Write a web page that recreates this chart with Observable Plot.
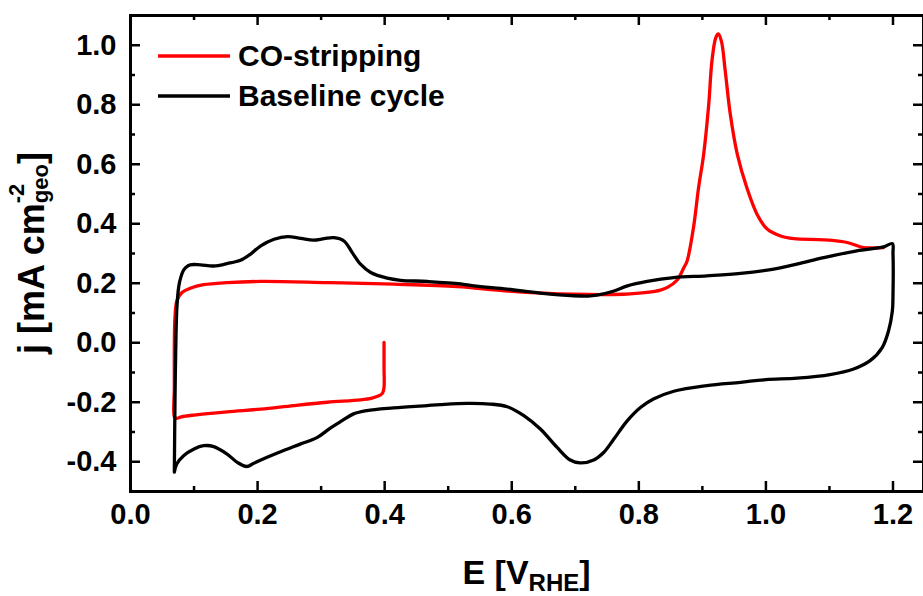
<!DOCTYPE html>
<html>
<head>
<meta charset="utf-8">
<script src="https://cdn.jsdelivr.net/npm/d3@7"></script>
<script src="https://cdn.jsdelivr.net/npm/@observablehq/plot@0.6"></script>
<style>
  html, body { margin: 0; padding: 0; background: #fff; }
  #chart svg { display: block; }
</style>
</head>
<body>
<div id="chart"></div>
<script>
// Cyclic voltammograms: CO-stripping scan and the following baseline cycle.
const seriesNames = ["CO-stripping", "Baseline cycle"];
const seriesColors = ["#ff0000", "#000000"];

// CO-stripping scan: starts at 0.40 V, goes cathodic to 0.07 V, then anodic to 1.2 V
const coStripE = [0.399, 0.399, 0.399, 0.397, 0.393, 0.380, 0.362, 0.310, 0.257, 0.205, 0.152, 0.100, 0.080, 0.072,
  0.069, 0.069, 0.069, 0.070, 0.073, 0.081, 0.094, 0.115, 0.152, 0.205, 0.310, 0.414, 0.514, 0.593, 0.698, 0.776, 0.813,
  0.834, 0.845, 0.860, 0.871, 0.876, 0.886, 0.894, 0.902, 0.910, 0.915, 0.921, 0.925, 0.930, 0.936, 0.944,
  0.955, 0.970, 0.986, 1.002, 1.023, 1.044, 1.091, 1.128, 1.154, 1.185];
const coStripJ = [0.001, -0.080, -0.150, -0.168, -0.176, -0.186, -0.192, -0.200, -0.211, -0.223, -0.232, -0.243, -0.249, -0.254,
  -0.248, -0.150, 0.000, 0.085, 0.141, 0.169, 0.183, 0.195, 0.202, 0.206, 0.202, 0.197, 0.189, 0.174, 0.163, 0.163, 0.169,
  0.177, 0.186, 0.210, 0.253, 0.275, 0.387, 0.521, 0.633, 0.801, 0.946, 1.025, 1.038, 1.013, 0.913, 0.767,
  0.633, 0.521, 0.432, 0.382, 0.359, 0.350, 0.346, 0.337, 0.320, 0.320];

// Baseline cycle: anodic sweep 0.07 -> 1.2 V, then cathodic sweep back to 0.07 V
const baselineE = [0.069, 0.070, 0.071, 0.073, 0.076, 0.079, 0.083, 0.087, 0.094, 0.110, 0.131, 0.152, 0.173,
  0.189, 0.205, 0.226, 0.247, 0.268, 0.288, 0.305, 0.320, 0.336, 0.349, 0.362, 0.378, 0.404, 0.425, 0.467,
  0.519, 0.540, 0.593, 0.645, 0.698, 0.720, 0.734, 0.761, 0.782, 0.813, 0.855, 0.907, 0.960, 1.010, 1.050,
  1.091, 1.143, 1.185, 1.199,
  1.200, 1.200, 1.199, 1.193, 1.183, 1.164, 1.138, 1.101, 1.049, 1.000, 0.960, 0.907, 0.855, 0.823, 0.803,
  0.782, 0.761, 0.745, 0.729, 0.708, 0.692, 0.671, 0.645, 0.619, 0.593, 0.566, 0.530, 0.488, 0.467, 0.414,
  0.372, 0.351, 0.333, 0.315, 0.294, 0.268, 0.241, 0.215, 0.194, 0.183, 0.168, 0.152, 0.131, 0.115, 0.100,
  0.084, 0.073, 0.069];
const baselineJ = [-0.435, -0.200, -0.050, 0.118, 0.190, 0.219, 0.242, 0.253, 0.262, 0.262, 0.258, 0.266, 0.277,
  0.298, 0.326, 0.348, 0.357, 0.351, 0.345, 0.350, 0.353, 0.342, 0.303, 0.264, 0.236, 0.217, 0.210, 0.206,
  0.198, 0.191, 0.180, 0.167, 0.158, 0.157, 0.160, 0.174, 0.191, 0.206, 0.219, 0.225, 0.233, 0.247, 0.265,
  0.286, 0.309, 0.322, 0.333,
  0.300, 0.163, 0.107, 0.040, -0.016, -0.060, -0.088, -0.107, -0.119, -0.124, -0.133, -0.144, -0.163, -0.189, -0.217,
  -0.262, -0.323, -0.368, -0.394, -0.404, -0.394, -0.351, -0.290, -0.245, -0.215, -0.206, -0.204, -0.208, -0.211, -0.219,
  -0.228, -0.239, -0.262, -0.286, -0.318, -0.340, -0.362, -0.385, -0.405, -0.416, -0.402, -0.374, -0.349, -0.346, -0.357,
  -0.379, -0.407, -0.435];

// Axis ticks
const xMajorTicks = [0.0, 0.2, 0.4, 0.6, 0.8, 1.0, 1.2];
const xMinorTicks = [0.1, 0.3, 0.5, 0.7, 0.9, 1.1];
const yMajorTicks = [-0.4, -0.2, 0.0, 0.2, 0.4, 0.6, 0.8, 1.0];
const yMinorTicks = [-0.3, -0.1, 0.1, 0.3, 0.5, 0.7, 0.9];
const xDomain = [0, 1.248];
const yDomain = [-0.5, 1.1];

const rows = (E, J, series) => E.map((e, i) => ({E: e, j: J[i], series}));
const coRows = rows(coStripE, coStripJ, seriesNames[0]);
const baseRows = rows(baselineE, baselineJ, seriesNames[1]);

// Layout
const W = 923, H = 596;
const mL = 130, mR = 0, mT = 15, mB = 105;
const plotW = W - mL - mR, plotH = H - mT - mB;
const majorLen = 10, minorLen = 5, tickW = 2.5;
const lineW = 3.3;
const font = "'Liberation Sans', Arial, Helvetica, sans-serif";

// Inward ticks on all four sides of the frame
function xTicks(values, len) {
  return [
    Plot.ruleX(values, {x: d => d, insetTop: plotH - len, stroke: "#000", strokeWidth: tickW}),
    Plot.ruleX(values, {x: d => d, insetBottom: plotH - len, stroke: "#000", strokeWidth: tickW})
  ];
}
function yTicks(values, len) {
  return [
    Plot.ruleY(values, {y: d => d, insetRight: plotW - len, stroke: "#000", strokeWidth: tickW}),
    Plot.ruleY(values, {y: d => d, insetLeft: plotW - len, stroke: "#000", strokeWidth: tickW})
  ];
}

const chart = Plot.plot({
  width: W,
  height: H,
  marginLeft: mL,
  marginRight: mR,
  marginTop: mT,
  marginBottom: mB,
  style: {fontFamily: font, fontWeight: "bold", fontSize: "29px", background: "#fff", color: "#000"},
  x: {domain: xDomain},
  y: {domain: yDomain},
  marks: [
    Plot.line(coRows, {x: "E", y: "j", stroke: seriesColors[0], strokeWidth: lineW, curve: "catmull-rom"}),
    Plot.line(baseRows, {x: "E", y: "j", stroke: seriesColors[1], strokeWidth: lineW, curve: "catmull-rom"}),
    ...xTicks(xMajorTicks, majorLen),
    ...xTicks(xMinorTicks, minorLen),
    ...yTicks(yMajorTicks, majorLen),
    ...yTicks(yMinorTicks, minorLen),
    Plot.axisX(xMajorTicks, {tickSize: 0, tickPadding: 12, tickFormat: d => d.toFixed(1), label: null, fontSize: 29, fontWeight: "bold"}),
    Plot.axisY(yMajorTicks, {tickSize: 0, tickPadding: 14, tickFormat: d => d.toFixed(1), label: null, fontSize: 29, fontWeight: "bold"}),
    Plot.frame({stroke: "#000", strokeWidth: 3})
  ]
});

document.getElementById("chart").appendChild(chart);

// Axis titles with sub- and superscripts
const svg = d3.select(chart);
const xTitle = svg.append("text")
  .attr("x", mL + plotW / 2)
  .attr("y", 584)
  .attr("text-anchor", "middle")
  .attr("font-size", 34)
  .attr("font-weight", "bold")
  .attr("fill", "#000");
xTitle.append("tspan").text("E [V");
xTitle.append("tspan").attr("font-size", 24).attr("dy", 7).text("RHE");
xTitle.append("tspan").attr("dy", -7).text("]");

const yTitle = svg.append("text")
  .attr("transform", `translate(44,${mT + plotH / 2}) rotate(-90)`)
  .attr("text-anchor", "middle")
  .attr("font-size", 36)
  .attr("font-weight", "bold")
  .attr("fill", "#000");
yTitle.append("tspan").text("j [mA cm");
const sup = yTitle.append("tspan").attr("font-size", 22).attr("dy", -20).text("-2");
const supW = sup.node().getComputedTextLength();
yTitle.append("tspan").attr("font-size", 22).attr("dx", -supW).attr("dy", 24).text("geo");
yTitle.append("tspan").attr("dy", -4).text("]");

// Legend
const legend = svg.append("g")
  .attr("font-size", 30)
  .attr("font-weight", "bold")
  .attr("text-anchor", "start");
seriesNames.forEach((name, i) => {
  const cy = 56 + 40 * i;
  legend.append("line")
    .attr("x1", 158).attr("x2", 230).attr("y1", cy).attr("y2", cy)
    .attr("stroke", seriesColors[i]).attr("stroke-width", 3.5);
  legend.append("text")
    .attr("x", 238).attr("y", cy + 10)
    .attr("text-anchor", "start")
    .attr("fill", "#000")
    .text(name);
});
</script>
</body>
</html>
